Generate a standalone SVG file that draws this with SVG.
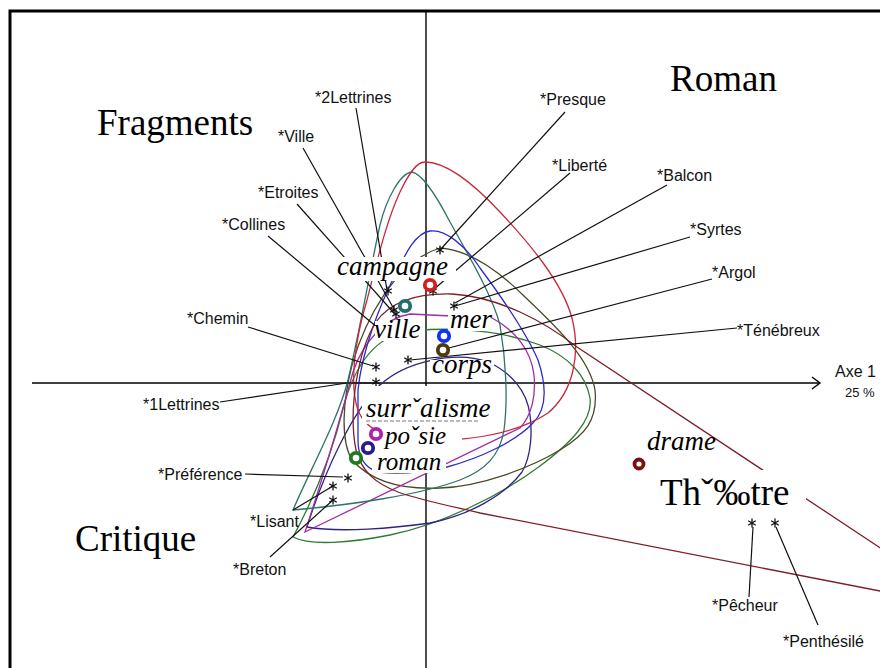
<svg xmlns="http://www.w3.org/2000/svg" xmlns:xlink="http://www.w3.org/1999/xlink" width="880" height="668" viewBox="0 0 880 668">
<style>
.lbl{font-family:"Liberation Sans",Arial,sans-serif;font-size:16px;fill:#111}
.big{font-family:"Liberation Serif","Times New Roman",serif;font-size:37px;fill:#000}
.it{font-family:"Liberation Serif","Times New Roman",serif;font-size:27px;font-style:italic;fill:#000}
.it2{font-family:"Liberation Serif","Times New Roman",serif;font-size:25px;font-style:italic;fill:#000}
.hull{fill:none;stroke-width:1.3}
.lead{stroke:#111;stroke-width:1.2;fill:none}
.box{fill:#fff}
.pt{fill:#fff;stroke-width:3.8}
.ax{stroke:#000;stroke-width:1.4;fill:none}
</style>
<defs>
<path id="star" d="M0,-4.5V4.5M-3.8,-2.2L3.8,2.2M-3.8,2.2L3.8,-2.2" stroke="#111" stroke-width="1.3" fill="none"/>
</defs>
<rect x="0" y="0" width="880" height="668" fill="#fff"/>
<rect id="frame" x="10" y="11" width="900" height="700" fill="none" stroke="#000" stroke-width="3"/>
<g id="axes">
<line class="ax" x1="426" y1="12" x2="426" y2="668"/>
<line class="ax" x1="32" y1="383" x2="820" y2="383"/>
<path class="ax" d="M812,377 L820,383 L812,389"/>
<text class="lbl" x="835" y="377">Axe 1</text>
<text class="lbl" x="845" y="397" style="font-size:13px">25 %</text>
</g>
<g id="hulls">
<path class="hull" stroke="#2e7d32" d="M293,537 C310,546 350,543 390,535 C440,525 500,496 540,466 C572,442 593,420 590,398 C586,375 568,356 540,345 C495,328 430,325 395,335 C368,345 352,375 344,405 C332,455 313,500 293,537 Z"/>
<path class="hull" stroke="#2d2480" d="M307,527 C340,533 395,528 430,523 C470,515 505,495 522,472 C532,455 532,430 530,415 C527,390 510,372 488,362 C455,350 405,362 380,385 C352,412 325,470 307,527 Z"/>
<path class="hull" stroke="#4a4a28" d="M440,248 C470,250 500,272 525,297 C560,330 590,360 595,390 C598,420 585,435 560,450 C530,468 480,487 440,488 C400,490 370,480 352,460 C340,440 343,400 352,365 C365,320 395,262 440,248 Z"/>
<path class="hull" stroke="#a52aa5" d="M305,532 L520,428 C532,415 536,395 534,375 C531,350 515,330 492,318 L410,314 C385,318 363,342 353,372 C340,420 322,480 305,532 Z"/>
<path class="hull" stroke="#2c7468" d="M412,172 C422,174 436,195 450,222 C470,258 492,295 500,325 C506,360 508,400 504,430 C500,455 486,470 460,480 C420,495 350,505 293,510 C310,470 338,420 348,380 C360,330 370,270 380,225 C386,200 400,173 412,172 Z"/>
<path class="hull" stroke="#2b2bd0" d="M430,231 C445,229 465,245 480,268 C500,295 525,330 538,360 C548,390 546,410 533,423 C515,442 480,458 447,467 C420,473 395,474 378,472 C365,468 358,458 358,440 L358,390 C362,350 380,305 395,275 C405,255 415,233 430,231 Z"/>
<path class="hull" stroke="#c8283c" d="M425,162 C445,162 472,182 500,212 C530,244 562,282 572,318 C581,355 573,392 548,413 C518,433 472,440 430,441 C395,442 366,432 358,410 C349,385 355,340 367,300 C377,262 386,222 400,192 C408,175 416,162 425,162 Z"/>
<path class="hull" stroke="#7b1f2a" d="M885,551 L577,347 C545,322 500,297 452,294 C412,293 388,305 376,322 C358,350 348,410 356,450 C362,472 375,483 398,492 C420,500 450,506 480,513 L885,592"/>
</g>
<g id="connectors">
<path class="lead" d="M356,108 L387,290"/>
<path class="lead" d="M303,148 L394,309"/>
<path class="lead" d="M297,204 L393,312"/>
<path class="lead" d="M268,236 L378,328"/>
<path class="lead" d="M248,327 L373,366"/>
<path class="lead" d="M220,402 L347,383 L375,383"/>
<path class="lead" d="M245,474 L343,477"/>
<path class="lead" d="M293,510 L333,486"/>
<path class="lead" d="M270,557 L333,500"/>
<path class="lead" d="M565,112 L440,250"/>
<path class="lead" d="M570,173 L433,290"/>
<path class="lead" d="M667,185 L455,303"/>
<path class="lead" d="M690,237 L455,306"/>
<path class="lead" d="M712,279 L445,349"/>
<path class="lead" d="M737,328 L410,360"/>
<path class="lead" d="M749,597 L753,527"/>
<path class="lead" d="M818,625 L776,527"/>
</g>
<g id="stars">
<use href="#star" x="440" y="250"/>
<use href="#star" x="388" y="291"/>
<use href="#star" x="394" y="310"/>
<use href="#star" x="396" y="314"/>
<use href="#star" x="433" y="291"/>
<use href="#star" x="454" y="306"/>
<use href="#star" x="376" y="367"/>
<use href="#star" x="376" y="382"/>
<use href="#star" x="408" y="360"/>
<use href="#star" x="348" y="478"/>
<use href="#star" x="333" y="486"/>
<use href="#star" x="333" y="500"/>
<use href="#star" x="752" y="523"/>
<use href="#star" x="775" y="523"/>
</g>
<g id="n-2lettrines"><text class="lbl" x="315" y="103">*2Lettrines</text></g>
<g id="n-ville"><text class="lbl" x="278" y="142">*Ville</text></g>
<g id="n-etroites"><text class="lbl" x="258" y="198">*Etroites</text></g>
<g id="n-collines"><text class="lbl" x="222" y="230">*Collines</text></g>
<g id="n-chemin"><text class="lbl" x="187" y="324">*Chemin</text></g>
<g id="n-1lettrines"><text class="lbl" x="143" y="410">*1Lettrines</text></g>
<g id="n-preference"><text class="lbl" x="158" y="480">*Préférence</text></g>
<g id="n-lisant"><text class="lbl" x="250" y="527">*Lisant</text></g>
<g id="n-breton"><text class="lbl" x="233" y="575">*Breton</text></g>
<g id="n-presque"><text class="lbl" x="540" y="105">*Presque</text></g>
<g id="n-liberte"><text class="lbl" x="552" y="171">*Liberté</text></g>
<g id="n-balcon"><text class="lbl" x="657" y="181">*Balcon</text></g>
<g id="n-syrtes"><text class="lbl" x="690" y="235">*Syrtes</text></g>
<g id="n-argol"><text class="lbl" x="712" y="278">*Argol</text></g>
<g id="n-tenebreux"><text class="lbl" x="737" y="336">*Ténébreux</text></g>
<g id="n-pecheur"><text class="lbl" x="712" y="611">*Pêcheur</text></g>
<g id="n-penthesile"><text class="lbl" x="783" y="647">*Penthésilé</text></g>
<g id="g-fragments"><text class="big" x="97" y="135">Fragments</text></g>
<g id="g-roman"><text class="big" x="670" y="91">Roman</text></g>
<g id="g-critique"><text class="big" x="75" y="551">Critique</text></g>
<g id="g-theatre"><rect class="box" x="648" y="470" width="158" height="44"/><text class="big" x="660" y="505">Thˇ‰tre</text></g>
<g id="p-campagne"><rect class="box" x="336" y="257" width="120" height="24"/><text class="it" x="337" y="275">campagne</text></g>
<g id="p-ville"><rect class="box" x="375" y="321" width="50" height="20"/><text class="it" x="374" y="338">ville</text></g>
<g id="p-mer"><rect class="box" x="448" y="313" width="44" height="18"/><text class="it" x="450" y="328">mer</text></g>
<g id="p-corps"><rect class="box" x="430" y="360" width="64" height="20"/><text class="it" x="432" y="373">corps</text></g>
<g id="p-surrealisme"><rect class="box" x="362" y="386" width="132" height="38"/><line x1="366" y1="421" x2="480" y2="421" stroke="#777" stroke-width="1" stroke-dasharray="4 2"/><text class="it" x="366" y="417">surrˇalisme</text></g>
<g id="p-poesie"><rect class="box" x="382" y="423" width="80" height="28"/><text class="it2" x="385" y="444">poˇsie</text></g>
<g id="p-roman"><rect class="box" x="372" y="450" width="74" height="23"/><text class="it2" x="377" y="470">roman</text></g>
<g id="p-drame"><text class="it" x="647" y="450">drame</text></g>
<g id="markers">
<circle class="pt" cx="430" cy="285" r="5.2" stroke="#d02020"/>
<circle class="pt" cx="405" cy="306" r="5.2" stroke="#1f6f6f"/>
<circle class="pt" cx="444" cy="336" r="5.2" stroke="#1030ff"/>
<circle class="pt" cx="443" cy="350" r="5.2" stroke="#4a3a10"/>
<circle class="pt" cx="376" cy="434" r="5.2" stroke="#b020b0"/>
<circle class="pt" cx="368" cy="448" r="5.2" stroke="#2a1a90"/>
<circle class="pt" cx="356" cy="458" r="5.2" stroke="#207a20"/>
<circle class="pt" cx="639" cy="464" r="4.5" stroke="#7a1010"/>
</g>
</svg>
